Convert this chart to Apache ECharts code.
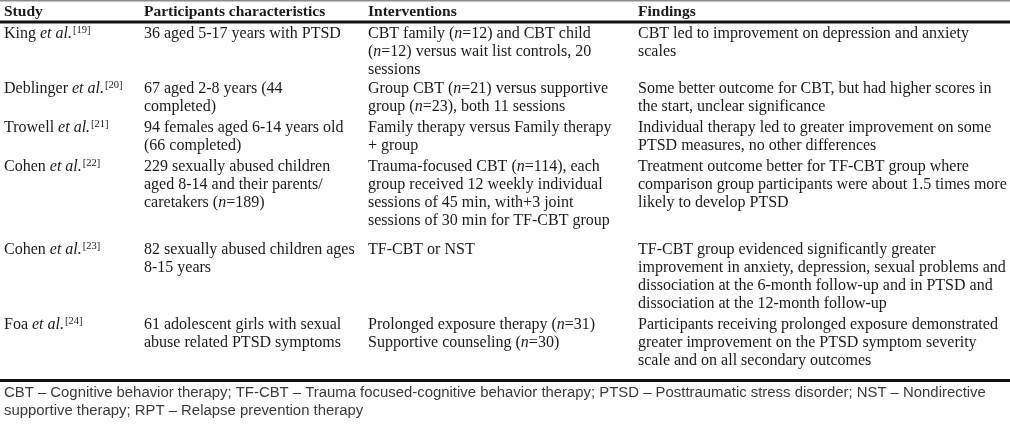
<!DOCTYPE html>
<html><head><meta charset="utf-8">
<script src="https://cdn.jsdelivr.net/npm/echarts@6/dist/echarts.min.js"></script>
<style>html,body{margin:0;padding:0;background:#fff}#c{width:1010px;height:435px}</style>
</head><body><div id="c"></div>
<script>
// ---- data ----
const headers = ['Study', 'Participants characteristics', 'Interventions', 'Findings'];
const studies = ['King et al.[19]', 'Deblinger et al.[20]', 'Trowell et al.[21]', 'Cohen et al.[22]', 'Cohen et al.[23]', 'Foa et al.[24]'];
const participants = [
  '36 aged 5-17 years with PTSD',
  '67 aged 2-8 years (44\ncompleted)',
  '94 females aged 6-14 years old\n(66 completed)',
  '229 sexually abused children\naged 8-14 and their parents/\ncaretakers (n=189)',
  '82 sexually abused children ages\n8-15 years',
  '61 adolescent girls with sexual\nabuse related PTSD symptoms'
];
const interventions = [
  'CBT family (n=12) and CBT child\n(n=12) versus wait list controls, 20\nsessions',
  'Group CBT (n=21) versus supportive\ngroup (n=23), both 11 sessions',
  'Family therapy versus Family therapy\n+ group',
  'Trauma-focused CBT (n=114), each\ngroup received 12 weekly individual\nsessions of 45 min, with+3 joint\nsessions of 30 min for TF-CBT group',
  'TF-CBT or NST',
  'Prolonged exposure therapy (n=31)\nSupportive counseling (n=30)'
];
const findings = [
  'CBT led to improvement on depression and anxiety\nscales',
  'Some better outcome for CBT, but had higher scores in\nthe start, unclear significance',
  'Individual therapy led to greater improvement on some\nPTSD measures, no other differences',
  'Treatment outcome better for TF-CBT group where\ncomparison group participants were about 1.5 times more\nlikely to develop PTSD',
  'TF-CBT group evidenced significantly greater\nimprovement in anxiety, depression, sexual problems and\ndissociation at the 6-month follow-up and in PTSD and\ndissociation at the 12-month follow-up',
  'Participants receiving prolonged exposure demonstrated\ngreater improvement on the PTSD symptom severity\nscale and on all secondary outcomes'
];
const footnote = 'CBT – Cognitive behavior therapy; TF-CBT – Trauma focused-cognitive behavior therapy; PTSD – Posttraumatic stress disorder; NST – Nondirective\nsupportive therapy; RPT – Relapse prevention therapy';

// ---- layout ----
const W = 1010;
const colX = [4, 144, 368, 638];
const serif = '"Liberation Serif", "Times New Roman", serif';
const sans = '"Liberation Sans", Arial, sans-serif';
const fs = 16, lineH = 18;
const rowGaps = [1, 3, 3, 11, 3];   // extra space after each row (layout)
const textColor = '#1a1a1a';
const headerMid = 11.5;
const firstRowTop = 25;

function toRich(s) {
  return s
    .replace(/et al\./g, '{i|et al.}')
    .replace(/\[(\d+)\]/g, '{s|[$1]}')
    .replace(/\(n=/g, '({i|n}=');
}
const rich = {
  i: { fontStyle: 'italic', fontFamily: serif, fontSize: fs, lineHeight: lineH, fill: textColor },
  s: { fontSize: 10.5, fontFamily: serif, lineHeight: lineH, verticalAlign: 'top', padding: [0, 0, 0, 1], fill: textColor }
};

const graphics = [];
graphics.push({ type: 'rect', shape: { x: 0, y: 0, width: W, height: 1.5 }, style: { fill: '#8c8c8c' } });
headers.forEach((h, c) => {
  graphics.push({ type: 'text', x: colX[c], y: headerMid, style: {
    text: h, fontFamily: serif, fontSize: 15.5, fontWeight: 'bold', fill: textColor, verticalAlign: 'middle' } });
});
graphics.push({ type: 'rect', shape: { x: 0, y: 20.5, width: W, height: 3 }, style: { fill: '#111' } });

const cols = [studies, participants, interventions, findings];
let rowTop = firstRowTop;
let lastBottom = rowTop;
studies.forEach((_, r) => {
  let maxLines = 1;
  cols.forEach((arr, c) => {
    const txt = arr[r];
    maxLines = Math.max(maxLines, txt.split('\n').length);
    graphics.push({ type: 'text', x: colX[c], y: rowTop, style: {
      text: toRich(txt), rich: rich, fontFamily: serif, fontSize: fs, lineHeight: lineH,
      fill: textColor, verticalAlign: 'top' } });
  });
  lastBottom = rowTop + maxLines * lineH;
  rowTop = lastBottom + (rowGaps[r] || 0);
});
const bottomRule = lastBottom + 9;
graphics.push({ type: 'rect', shape: { x: 0, y: bottomRule, width: W, height: 3 }, style: { fill: '#111' } });
graphics.push({ type: 'text', x: colX[0], y: bottomRule + 5, style: {
  text: footnote, fontFamily: sans, fontSize: 14.9, lineHeight: 18, fill: '#3a3a3a', verticalAlign: 'top' } });

const chart = echarts.init(document.getElementById('c'), null, { renderer: 'canvas' });
chart.setOption({ animation: false, backgroundColor: '#fff', graphic: graphics });
</script>
</body></html>
